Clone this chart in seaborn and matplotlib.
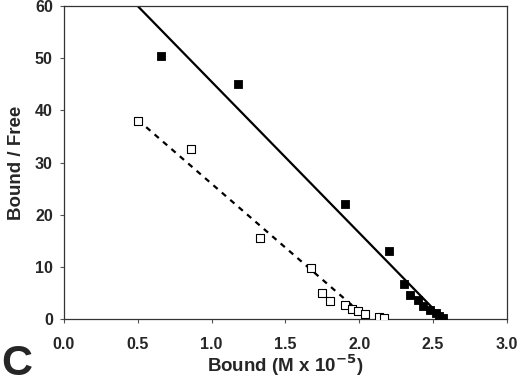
import numpy as np
import pandas as pd
import seaborn as sns
import matplotlib.pyplot as plt

# Scatchard data
bound_filled = [0.66, 1.18, 1.90, 2.20, 2.30, 2.34, 2.40, 2.43, 2.48, 2.52, 2.54, 2.57]
ratio_filled = [50.5, 45.0, 22.1, 13.0, 6.8, 4.7, 3.6, 2.5, 1.8, 1.1, 0.6, 0.3]

bound_open = [0.50, 0.86, 1.33, 1.67, 1.75, 1.80, 1.90, 1.95, 1.99, 2.04, 2.13, 2.17]
ratio_open = [38.0, 32.7, 15.5, 9.9, 5.1, 3.5, 2.8, 1.9, 1.5, 0.9, 0.4, 0.2]

# fitted lines (endpoints)
fit_filled_x = [0.50, 2.57]
fit_filled_y = [60.0, 0.0]
fit_open_x = [0.50, 2.08]
fit_open_y = [38.2, -0.5]

x_ticks = [0.0, 0.5, 1.0, 1.5, 2.0, 2.5, 3.0]
y_ticks = [0, 10, 20, 30, 40, 50, 60]

sns.set_style("ticks")
plt.rcParams['font.family'] = ['Liberation Sans', 'DejaVu Sans']

fig = plt.figure(figsize=(5.2, 3.85), dpi=100)
ax = fig.add_axes([0.123, 0.171, 0.852, 0.813])

df_filled = pd.DataFrame({"Bound": bound_filled, "Ratio": ratio_filled})
df_open = pd.DataFrame({"Bound": bound_open, "Ratio": ratio_open})

sns.lineplot(x=fit_filled_x, y=fit_filled_y, ax=ax, color="black", linewidth=1.6)
sns.lineplot(x=fit_open_x, y=fit_open_y, ax=ax, color="black", linewidth=1.6,
             linestyle=(0, (2.5, 2.5)))
sns.scatterplot(data=df_filled, x="Bound", y="Ratio", ax=ax, marker="s", s=30,
                color="black", edgecolor="black", linewidth=0.6, zorder=3)
sns.scatterplot(data=df_open, x="Bound", y="Ratio", ax=ax, marker="s", s=30,
                facecolor="white", edgecolor="black", linewidth=0.8, zorder=3)

ax.set_xlim(0, 3)
ax.set_ylim(0, 60)
ax.set_xticks(x_ticks)
ax.set_yticks(y_ticks)
ax.set_xticklabels([f"{v:.1f}" for v in x_ticks], fontsize=11.5, fontweight="bold")
ax.set_yticklabels([str(v) for v in y_ticks], fontsize=11.5, fontweight="bold")
ax.tick_params(direction="out", length=3, width=0.8, color="#555555")
ax.tick_params(axis="x", pad=10)
ax.tick_params(axis="y", pad=5)
for s in ax.spines.values():
    s.set_visible(True)
    s.set_linewidth(0.9)
    s.set_color("#333333")

ax.set_xlabel("Bound (M x 10$^{\\mathbf{-5}}$)", fontsize=13.5, fontweight="bold", labelpad=0)
ax.set_ylabel("Bound / Free", fontsize=13.5, fontweight="bold", labelpad=7)
fig.text(0.003, 0.025, "C", fontsize=31, fontweight="bold", ha="left", va="baseline")

plt.savefig("out.png", dpi=100)
